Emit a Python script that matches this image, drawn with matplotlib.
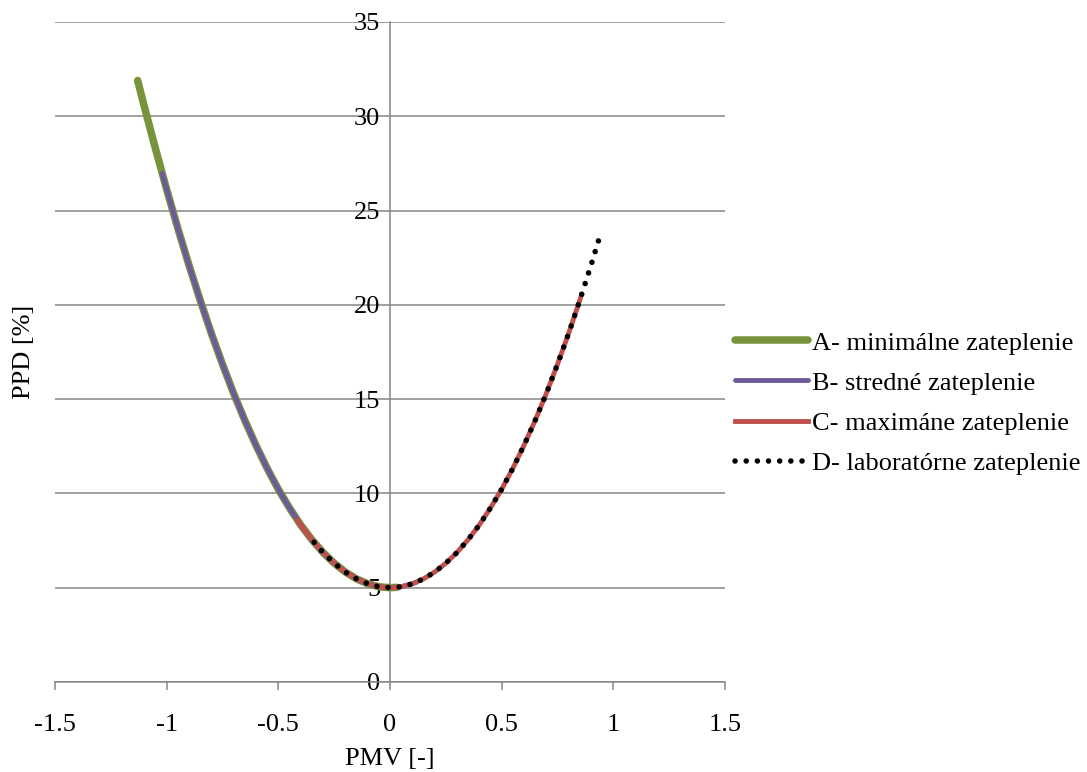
import matplotlib
matplotlib.use("Agg")
import matplotlib.pyplot as plt
from matplotlib.lines import Line2D

plt.rcParams["font.family"] = ["Liberation Serif", "DejaVu Serif"]
plt.rcParams["axes.unicode_minus"] = False

# Series data: PMV [-] and PPD [%]
pmv_a = [-1.13, -1.10, -1.05, -1.00, -0.95, -0.90, -0.85, -0.80, -0.75, -0.70,
         -0.65, -0.60, -0.55, -0.50, -0.45, -0.40, -0.35, -0.30, -0.25, -0.20,
         -0.15, -0.10, -0.05, 0.00, 0.03]
ppd_a = [31.90, 30.51, 28.28, 26.12, 24.06, 22.10, 20.25, 18.49, 16.85, 15.30,
         13.87, 12.55, 11.33, 10.22, 9.23, 8.33, 7.55, 6.87, 6.30, 5.83,
         5.47, 5.21, 5.05, 5.00, 5.02]

pmv_b = [-1.02, -1.00, -0.95, -0.90, -0.85, -0.80, -0.75, -0.70, -0.65, -0.60,
         -0.55, -0.50, -0.45, -0.40, -0.35, -0.30, -0.25, -0.20, -0.15, -0.10,
         -0.05, 0.00, 0.05, 0.10, 0.12]
ppd_b = [26.97, 26.12, 24.06, 22.10, 20.25, 18.49, 16.85, 15.30, 13.87, 12.55,
         11.33, 10.22, 9.23, 8.33, 7.55, 6.87, 6.30, 5.83, 5.47, 5.21,
         5.05, 5.00, 5.05, 5.21, 5.30]

pmv_c = [-0.42, -0.40, -0.35, -0.30, -0.25, -0.20, -0.15, -0.10, -0.05, 0.00,
         0.05, 0.10, 0.15, 0.20, 0.25, 0.30, 0.35, 0.40, 0.45, 0.50,
         0.55, 0.60, 0.65, 0.70, 0.75, 0.80, 0.85, 0.86]
ppd_c = [8.68, 8.33, 7.55, 6.87, 6.30, 5.83, 5.47, 5.21, 5.05, 5.00,
         5.05, 5.21, 5.47, 5.83, 6.30, 6.87, 7.55, 8.33, 9.23, 10.22,
         11.33, 12.55, 13.87, 15.30, 16.85, 18.49, 20.25, 20.62]

pmv_d = [-0.34, -0.30, -0.25, -0.20, -0.15, -0.10, -0.05, 0.00, 0.05, 0.10,
         0.15, 0.20, 0.25, 0.30, 0.35, 0.40, 0.45, 0.50, 0.55, 0.60,
         0.65, 0.70, 0.75, 0.80, 0.85, 0.90, 0.94]
ppd_d = [7.41, 6.87, 6.30, 5.83, 5.47, 5.21, 5.05, 5.00, 5.05, 5.21,
         5.47, 5.83, 6.30, 6.87, 7.55, 8.33, 9.23, 10.22, 11.33, 12.55,
         13.87, 15.30, 16.85, 18.49, 20.25, 22.10, 23.66]

labels = ["A- minimálne zateplenie", "B- stredné zateplenie",
          "C- maximáne zateplenie", "D- laboratórne zateplenie"]
x_ticks = [-1.5, -1.0, -0.5, 0.0, 0.5, 1.0, 1.5]
x_tick_labels = ["-1.5", "-1", "-0.5", "0", "0.5", "1", "1.5"]
y_ticks = [0, 5, 10, 15, 20, 25, 30, 35]

GREEN = "#77933C"
PURPLE = "#6E5A9B"
RED = "#C0504D"
GRID = "#868686"
FS = 19

LW_A, LW_BC, LW_D = 5.4, 3.5, 4.0
DOTS = (0, (0.01, 2.0))

fig = plt.figure(figsize=(10.87, 7.72), dpi=100)
ax = fig.add_axes([55 / 1087, 1 - 682 / 772, 670 / 1087, 660 / 772])

ax.plot(pmv_a, ppd_a, color=GREEN, lw=LW_A, solid_capstyle="round", zorder=3)
ax.plot(pmv_b, ppd_b, color=PURPLE, lw=LW_BC, solid_capstyle="round", zorder=4)
ax.plot(pmv_c, ppd_c, color=RED, lw=LW_BC, solid_capstyle="butt", zorder=5)
ax.plot(pmv_d, ppd_d, color="black", lw=LW_D, linestyle=DOTS,
        dash_capstyle="round", zorder=6)

ax.set_xlim(-1.5, 1.5)
ax.set_ylim(0, 35)
ax.set_xticks(x_ticks)
ax.set_xticklabels(x_tick_labels)
ax.set_yticks(y_ticks)

for side in ("top", "right"):
    ax.spines[side].set_visible(False)
ax.spines["left"].set_position(("data", 0))
for side in ("left", "bottom"):
    ax.spines[side].set_color(GRID)
    ax.spines[side].set_linewidth(1.1)
    ax.spines[side].set_zorder(1.5)

ax.yaxis.grid(True, color=GRID, lw=1.1, zorder=1)
ax.set_axisbelow(True)
ax.tick_params(axis="x", direction="out", length=6, width=1.1, color=GRID,
               labelsize=FS, pad=17)
ax.tick_params(axis="y", length=0, labelsize=FS, pad=7)

ax.set_xlabel("PMV [-]", fontsize=FS)
ax.xaxis.set_label_coords(0.5, -0.100)
ax.set_ylabel("PPD [%]", fontsize=FS)
ax.yaxis.set_label_coords(-0.03, 0.5)

handles = [
    Line2D([], [], color=GREEN, lw=LW_A, solid_capstyle="round"),
    Line2D([], [], color=PURPLE, lw=LW_BC, solid_capstyle="round"),
    Line2D([], [], color=RED, lw=LW_BC),
    Line2D([], [], color="black", lw=LW_D, linestyle=DOTS,
           dash_capstyle="round"),
]
fig.legend(handles, labels, loc="center left",
           bbox_to_anchor=(735 / 1087, 1 - 403 / 772),
           frameon=False, fontsize=FS, handlelength=2.75, handletextpad=0.15,
           labelspacing=0.63, borderpad=0, borderaxespad=0)

fig.savefig("out.png", dpi=100)
